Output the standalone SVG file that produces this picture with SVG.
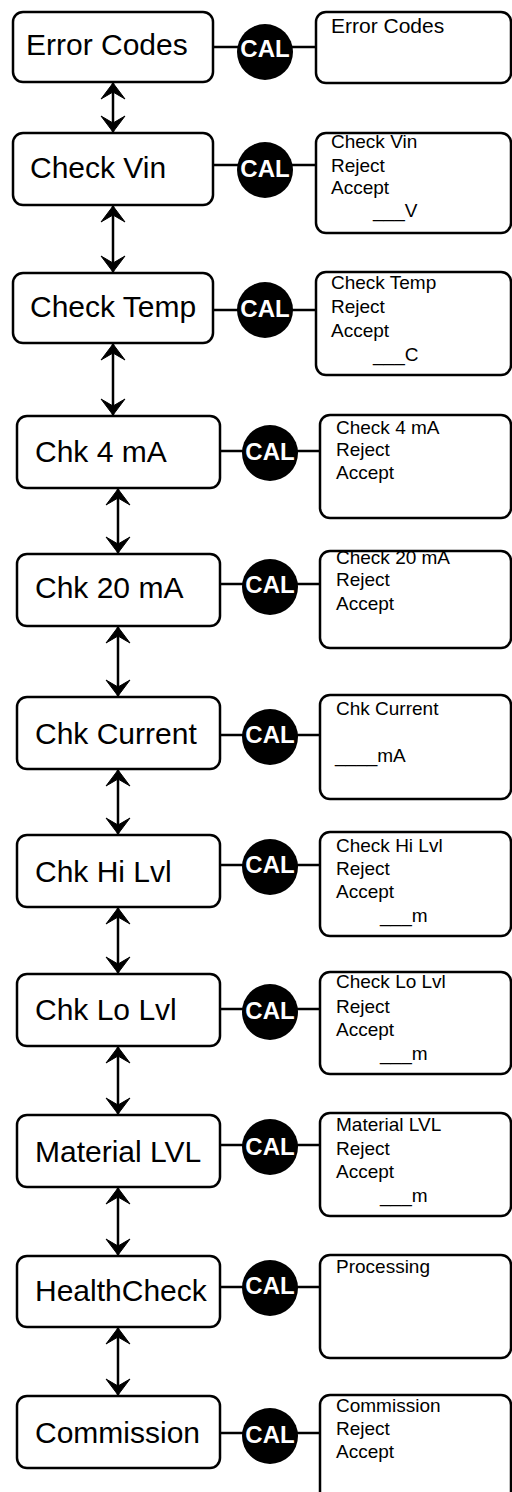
<svg xmlns="http://www.w3.org/2000/svg" width="512" height="1492" viewBox="0 0 512 1492">
<defs>
<marker id="ah" markerUnits="userSpaceOnUse" markerWidth="20" markerHeight="28" viewBox="-18 -14 20 28" refX="0" refY="0" orient="auto-start-reverse" overflow="visible">
<path d="M0,0 L-16,-12 L-9,0 L-16,12 Z" fill="#000" stroke="#000" stroke-width="1" stroke-linejoin="miter"/>
</marker>
<style>
.box{fill:#fff;stroke:#000;stroke-width:2.5}
.big{font-family:"Liberation Sans",Arial,sans-serif;font-size:30px;fill:#000}
.sm{font-family:"Liberation Sans",Arial,sans-serif;font-size:19px;fill:#000}
.cal{fill:#000}
.calt{font-family:"Liberation Sans",Arial,sans-serif;font-size:24px;font-weight:bold;fill:#fff;text-anchor:middle}
.ln{stroke:#000;stroke-width:2.5;fill:none}
.arr{stroke:#000;stroke-width:2.5;fill:none;marker-start:url(#ah);marker-end:url(#ah)}
</style>
</defs>
<rect width="512" height="1492" fill="#fff"/>
<g id="connectors">
<line class="ln" x1="213" y1="47" x2="316" y2="47"/>
<line class="ln" x1="213" y1="165" x2="316" y2="165"/>
<line class="ln" x1="213" y1="310" x2="316" y2="310"/>
<line class="ln" x1="220" y1="451" x2="320" y2="451"/>
<line class="ln" x1="220" y1="584" x2="320" y2="584"/>
<line class="ln" x1="220" y1="735" x2="320" y2="735"/>
<line class="ln" x1="220" y1="865" x2="320" y2="865"/>
<line class="ln" x1="220" y1="1009" x2="320" y2="1009"/>
<line class="ln" x1="220" y1="1145" x2="320" y2="1145"/>
<line class="ln" x1="220" y1="1287" x2="320" y2="1287"/>
<line class="ln" x1="220" y1="1433" x2="320" y2="1433"/>
<line class="arr" x1="113" y1="83" x2="113" y2="132"/>
<line class="arr" x1="113" y1="206" x2="113" y2="272"/>
<line class="arr" x1="113" y1="344" x2="113" y2="415"/>
<line class="arr" x1="118" y1="489" x2="118" y2="553"/>
<line class="arr" x1="118" y1="627" x2="118" y2="696"/>
<line class="arr" x1="118" y1="770" x2="118" y2="834"/>
<line class="arr" x1="118" y1="908" x2="118" y2="973"/>
<line class="arr" x1="118" y1="1047" x2="118" y2="1114"/>
<line class="arr" x1="118" y1="1188" x2="118" y2="1255"/>
<line class="arr" x1="118" y1="1328" x2="118" y2="1395"/>
</g>
<g id="n1">
<rect class="box" x="13" y="12" width="200" height="70" rx="10"/>
<text class="big" x="26" y="55">Error Codes</text>
</g>
<g id="c1"><circle class="cal" cx="265" cy="52" r="28"/><text class="calt" x="265" y="57">CAL</text></g>
<g id="r1">
<rect class="box" x="316" y="12" width="195" height="71" rx="10"/>
<text class="sm" x="331" y="33" style="font-size:21px">Error Codes</text>
</g>
<g id="n2">
<rect class="box" x="13" y="133" width="200" height="72" rx="10"/>
<text class="big" x="30" y="178">Check Vin</text>
</g>
<g id="c2"><circle class="cal" cx="265" cy="170" r="28"/><text class="calt" x="265" y="177">CAL</text></g>
<g id="r2">
<rect class="box" x="316" y="133" width="195" height="100" rx="10"/>
<text class="sm" x="331" y="148">Check Vin</text>
<text class="sm" x="331" y="172">Reject</text>
<text class="sm" x="331" y="194">Accept</text>
<text class="sm" x="373" y="217">___V</text>
</g>
<g id="n3">
<rect class="box" x="13" y="273" width="200" height="70" rx="10"/>
<text class="big" x="30" y="317">Check Temp</text>
</g>
<g id="c3"><circle class="cal" cx="265" cy="310" r="28"/><text class="calt" x="265" y="317">CAL</text></g>
<g id="r3">
<rect class="box" x="316" y="272" width="195" height="103" rx="10"/>
<text class="sm" x="331" y="289">Check Temp</text>
<text class="sm" x="331" y="313">Reject</text>
<text class="sm" x="331" y="337">Accept</text>
<text class="sm" x="373" y="361">___C</text>
</g>
<g id="n4">
<rect class="box" x="17" y="416" width="203" height="72" rx="10"/>
<text class="big" x="35" y="462">Chk 4 mA</text>
</g>
<g id="c4"><circle class="cal" cx="270" cy="453" r="28"/><text class="calt" x="270" y="460">CAL</text></g>
<g id="r4">
<rect class="box" x="320" y="415" width="191" height="103" rx="10"/>
<text class="sm" x="336" y="434">Check 4 mA</text>
<text class="sm" x="336" y="456">Reject</text>
<text class="sm" x="336" y="479">Accept</text>
</g>
<g id="n5">
<rect class="box" x="17" y="554" width="203" height="72" rx="10"/>
<text class="big" x="35" y="598">Chk 20 mA</text>
</g>
<g id="c5"><circle class="cal" cx="270" cy="587" r="28"/><text class="calt" x="270" y="593">CAL</text></g>
<g id="r5">
<rect class="box" x="320" y="551" width="191" height="97" rx="10"/>
<text class="sm" x="336" y="564">Check 20 mA</text>
<text class="sm" x="336" y="586">Reject</text>
<text class="sm" x="336" y="610">Accept</text>
</g>
<g id="n6">
<rect class="box" x="17" y="697" width="203" height="72" rx="10"/>
<text class="big" x="35" y="744">Chk Current</text>
</g>
<g id="c6"><circle class="cal" cx="270" cy="737" r="28"/><text class="calt" x="270" y="743">CAL</text></g>
<g id="r6">
<rect class="box" x="320" y="695" width="191" height="104" rx="10"/>
<text class="sm" x="336" y="715">Chk Current</text>
<text class="sm" x="335" y="762">____mA</text>
</g>
<g id="n7">
<rect class="box" x="17" y="835" width="203" height="72" rx="10"/>
<text class="big" x="35" y="882">Chk Hi Lvl</text>
</g>
<g id="c7"><circle class="cal" cx="270" cy="867" r="28"/><text class="calt" x="270" y="873">CAL</text></g>
<g id="r7">
<rect class="box" x="320" y="832" width="191" height="104" rx="10"/>
<text class="sm" x="336" y="852">Check Hi Lvl</text>
<text class="sm" x="336" y="875">Reject</text>
<text class="sm" x="336" y="898">Accept</text>
<text class="sm" x="380" y="922">___m</text>
</g>
<g id="n8">
<rect class="box" x="17" y="974" width="203" height="72" rx="10"/>
<text class="big" x="35" y="1020">Chk Lo Lvl</text>
</g>
<g id="c8"><circle class="cal" cx="270" cy="1012" r="28"/><text class="calt" x="270" y="1019">CAL</text></g>
<g id="r8">
<rect class="box" x="320" y="972" width="191" height="102" rx="10"/>
<text class="sm" x="336" y="988">Check Lo Lvl</text>
<text class="sm" x="336" y="1013">Reject</text>
<text class="sm" x="336" y="1036">Accept</text>
<text class="sm" x="380" y="1060">___m</text>
</g>
<g id="n9">
<rect class="box" x="17" y="1115" width="203" height="72" rx="10"/>
<text class="big" x="35" y="1162">Material LVL</text>
</g>
<g id="c9"><circle class="cal" cx="270" cy="1147" r="28"/><text class="calt" x="270" y="1155">CAL</text></g>
<g id="r9">
<rect class="box" x="320" y="1113" width="191" height="103" rx="10"/>
<text class="sm" x="336" y="1131">Material LVL</text>
<text class="sm" x="336" y="1155">Reject</text>
<text class="sm" x="336" y="1178">Accept</text>
<text class="sm" x="380" y="1202">___m</text>
</g>
<g id="n10">
<rect class="box" x="17" y="1256" width="203" height="71" rx="10"/>
<text class="big" x="35" y="1301">HealthCheck</text>
</g>
<g id="c10"><circle class="cal" cx="270" cy="1288" r="28"/><text class="calt" x="270" y="1294">CAL</text></g>
<g id="r10">
<rect class="box" x="320" y="1255" width="191" height="103" rx="10"/>
<text class="sm" x="336" y="1273">Processing</text>
</g>
<g id="n11">
<rect class="box" x="17" y="1396" width="203" height="72" rx="10"/>
<text class="big" x="35" y="1443">Commission</text>
</g>
<g id="c11"><circle class="cal" cx="270" cy="1436" r="28"/><text class="calt" x="270" y="1443">CAL</text></g>
<g id="r11">
<rect class="box" x="320" y="1395" width="191" height="110" rx="10"/>
<text class="sm" x="336" y="1412">Commission</text>
<text class="sm" x="336" y="1435">Reject</text>
<text class="sm" x="336" y="1458">Accept</text>
</g>
</svg>
